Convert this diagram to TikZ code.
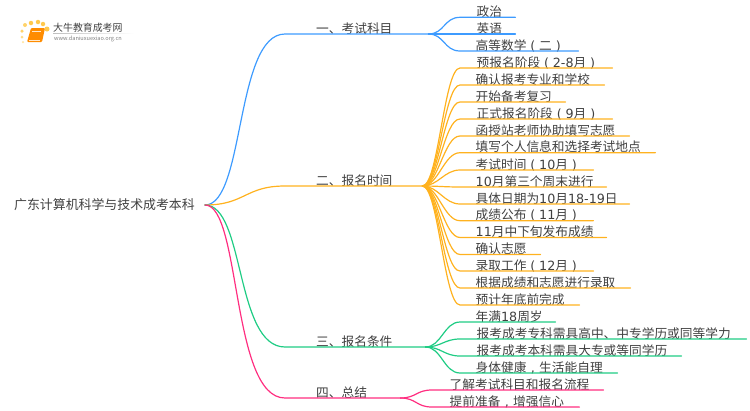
\documentclass[tikz,border=0pt]{standalone}
\usepackage{fontspec}
\setmainfont{Noto Sans CJK SC}
\newfontfamily\latf{DejaVu Sans}
\newcommand{\lat}[1]{{\latf #1}}
\newcommand{\lpn}{\makebox[12.7pt][c]{\latf (}}
\newcommand{\rpn}{\makebox[12.7pt][c]{\latf )}}
\newcommand{\cmm}{\makebox[12.7pt][c]{\latf ,}}
\usetikzlibrary{calc}
\definecolor{cblue}{HTML}{3D9BFF}
\definecolor{corange}{HTML}{FFB21F}
\definecolor{cgreen}{HTML}{1FCC84}
\definecolor{cpink}{HTML}{FF2E80}
\definecolor{ctext}{HTML}{404040}
\tikzset{
 lab/.style={inner sep=0pt,anchor=south west,align=left,text=ctext,font=\fontsize{12.7}{14}\selectfont,text height=10pt,text depth=0.6pt},
 con/.style={line width=1.2pt,line cap=round,line join=round},
}
% name, hub, colour, start x, unused, end x, y, indent, text
\newcommand{\leafitem}[9]{%
 \pgfmathsetmacro{\leafwidth}{#6-#4}
 \node[lab,text width=\leafwidth pt] (#1) at (#4,#7) {\hspace*{#8pt}#9};
 \draw[con,#3] (#2.south east) .. controls +(16,0) and ($(#1.south west)+(-16,0)$) .. (#1.south west) -- (#1.south east);
}
\begin{document}
\begin{tikzpicture}[x=1pt,y=-1pt]
\useasboundingbox (0,0) rectangle (750,410);
% logo
\foreach \px/\py/\r/\c in {25/25/4/FFD36B,31/23/4.5/FFC94D,38/22/4.5/FFC94D,43/24/4.5/FFC94D,47/29/5/FFC94D,22/31/3.5/FFD36B,22/37/3/FFDD8A,23/42/2.5/FFE6A8}{
 \definecolor{tmpc}{HTML}{\c}
 \fill[tmpc] (\px,\py) circle ({\r/2});
}
\fill[orange!90!yellow,rounded corners=1pt] (31,28) -- (45,28) -- (42,42) -- (27,42) -- cycle;
\fill[white,opacity=.8] (32,31) rectangle (41,32);
\fill[white,opacity=.8] (28.5,39.5) rectangle (40,40.5);
\node[inner sep=0pt,anchor=west,text=ctext,font=\fontsize{9.9}{11}\selectfont] (logotitle) at (53,28) {大牛教育成考网};
\node[inner sep=0pt,anchor=west,text=gray,font=\fontsize{5.6}{7}\selectfont] (logourl) at (54,39) {www.daniuxuexiao.org.cn};
\shade[left color=gray!50,right color=white] (53,33) rectangle (134,33.6);
% root
\node[inner sep=0pt,anchor=east,text=ctext,font=\fontsize{12.9}{15}\selectfont] (root) at (195,205) {广东计算机科学与技术成考本科};
\coordinate (rootend) at (205,205);
% branches
\node[lab,text width=143pt] (b1) at (285,34) {\hspace*{31pt}一、考试科目};
\node[lab,text width=137pt] (b2) at (285,186) {\hspace*{31pt}二、报名时间};
\node[lab,text width=140pt] (b3) at (285,347) {\hspace*{31pt}三、报名条件};
\node[lab,text width=115pt] (b4) at (285,398) {\hspace*{31pt}四、总结};
\draw[con,cblue] (rootend) .. controls +(40,0) and ($(b1.south west)+(-50,0)$) .. (b1.south west) -- (b1.south east);
\draw[con,corange] (rootend) .. controls +(40,0) and ($(b2.south west)+(-40,0)$) .. (b2.south west) -- (b2.south east);
\draw[con,cgreen] (rootend) .. controls +(40,0) and ($(b3.south west)+(-50,0)$) .. (b3.south west) -- (b3.south east);
\draw[con,cpink] (rootend) .. controls +(36,0) and ($(b4.south west)+(-54,0)$) .. (b4.south west) -- (b4.south east);
% leaves
\leafitem{a1}{b1}{cblue}{460}{}{515}{17.3}{16.5}{政治}
\leafitem{a2}{b1}{cblue}{460}{}{515}{34}{16.5}{英语}
\leafitem{a3}{b1}{cblue}{460}{}{578}{51}{15.5}{高等数学\lpn 二\rpn}
\leafitem{c1}{b2}{corange}{460}{}{612}{68}{16.5}{预报名阶段\lpn\lat{2-8}月\rpn}
\leafitem{c2}{b2}{corange}{460}{}{604}{85}{15.5}{确认报考专业和学校}
\leafitem{c3}{b2}{corange}{460}{}{565}{102}{15.5}{开始备考复习}
\leafitem{c4}{b2}{corange}{460}{}{612}{119}{16.5}{正式报名阶段\lpn\lat{9}月\rpn}
\leafitem{c5}{b2}{corange}{460}{}{629}{136}{15.5}{函授站老师协助填写志愿}
\leafitem{c6}{b2}{corange}{460}{}{655}{152.7}{15.5}{填写个人信息和选择考试地点}
\leafitem{c7}{b2}{corange}{460}{}{593}{170}{15.5}{考试时间\lpn\lat{10}月\rpn}
\leafitem{c8}{b2}{corange}{460}{}{606}{187}{15.5}{\lat{10}月第三个周末进行}
\leafitem{c9}{b2}{corange}{460}{}{629}{204}{15.5}{具体日期为\lat{10}月\lat{18-19}日}
\leafitem{c10}{b2}{corange}{460}{}{593}{220.7}{15.5}{成绩公布\lpn\lat{11}月\rpn}
\leafitem{c11}{b2}{corange}{460}{}{606}{237.5}{15.5}{\lat{11}月中下旬发布成绩}
\leafitem{c12}{b2}{corange}{460}{}{540}{254.5}{15.5}{确认志愿}
\leafitem{c13}{b2}{corange}{460}{}{593}{271}{15.5}{录取工作\lpn\lat{12}月\rpn}
\leafitem{c14}{b2}{corange}{460}{}{630}{288}{15.5}{根据成绩和志愿进行录取}
\leafitem{c15}{b2}{corange}{460}{}{579}{305}{15.5}{预计年底前完成}
\leafitem{d1}{b3}{cgreen}{460}{}{555}{322}{15.5}{年满\lat{18}周岁}
\leafitem{d2}{b3}{cgreen}{460}{}{746}{339}{16.5}{报考成考专科需具高中、中专学历或同等学力}
\leafitem{d3}{b3}{cgreen}{460}{}{681}{356}{16.5}{报考成考本科需具大专或等同学历}
\leafitem{d4}{b3}{cgreen}{460}{}{617}{373}{15.5}{身体健康\cmm 生活能自理}
\leafitem{e1}{b4}{cpink}{432}{}{603}{390}{17.5}{了解考试科目和报名流程}
\leafitem{e2}{b4}{cpink}{432}{}{579}{407}{17.5}{提前准备\cmm 增强信心}
\end{tikzpicture}
\end{document}
